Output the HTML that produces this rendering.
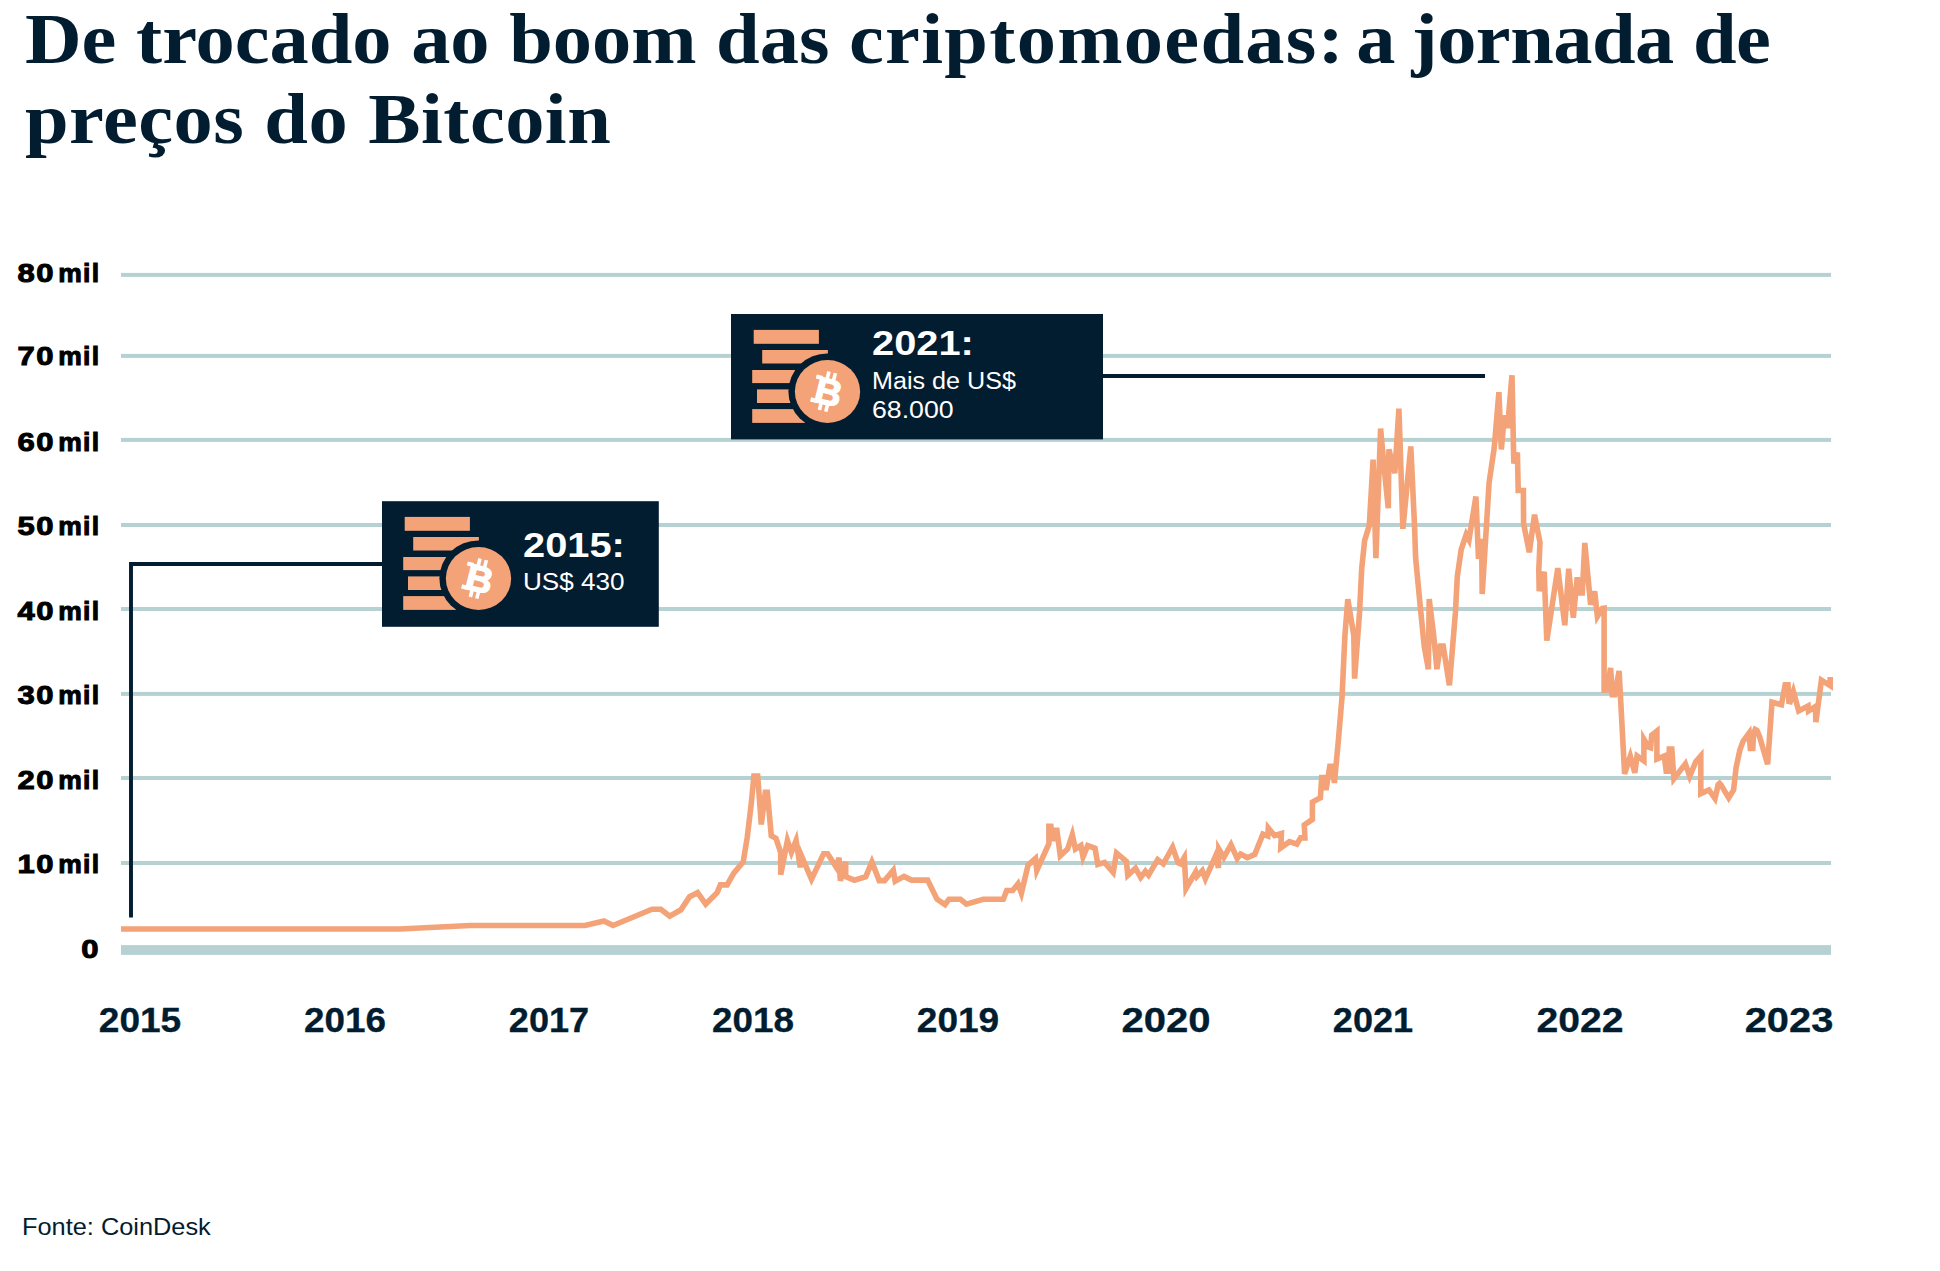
<!DOCTYPE html>
<html lang="pt-BR"><head><meta charset="utf-8"><title>De trocado ao boom das criptomoedas</title>
<style>
html,body{margin:0;padding:0;background:#fff;}
body{width:1940px;height:1271px;position:relative;overflow:hidden;font-family:"Liberation Sans",sans-serif;}
.t{position:absolute;white-space:nowrap;line-height:1;margin:0;}
h1.t{font-family:"Liberation Serif",serif;font-weight:bold;font-size:72px;color:#021c30;transform-origin:0 0;transform:scaleX(1.089);}
.yl{font-weight:bold;font-size:26.5px;color:#000;text-align:right;width:120px;left:-19.6px;-webkit-text-stroke:1.0px #000;letter-spacing:1.3px;word-spacing:-5.2px;}
.d{display:inline-block;transform:scaleX(1.17);transform-origin:100% 50%;}
.xl{font-weight:bold;font-size:34.5px;color:#021c30;transform-origin:50% 50%;text-align:center;width:120px;-webkit-text-stroke:0.3px #021c30;}
.bt{font-weight:bold;font-size:35px;color:#fff;transform-origin:0 0;transform:scaleX(1.137);}
.bs{font-size:23.5px;color:#fff;transform-origin:0 0;}
.src{font-size:24px;color:#021c30;transform-origin:0 0;transform:scaleX(1.056);}
</style></head><body>
<svg width="1940" height="1271" viewBox="0 0 1940 1271" style="position:absolute;left:0;top:0">
<rect x="121" y="272.9" width="1710" height="4" fill="#b6d1d1"/>
<rect x="121" y="353.9" width="1710" height="4" fill="#b6d1d1"/>
<rect x="121" y="437.9" width="1710" height="4" fill="#b6d1d1"/>
<rect x="121" y="523.0" width="1710" height="4" fill="#b6d1d1"/>
<rect x="121" y="607.0" width="1710" height="4" fill="#b6d1d1"/>
<rect x="121" y="691.9" width="1710" height="4" fill="#b6d1d1"/>
<rect x="121" y="776.0" width="1710" height="4" fill="#b6d1d1"/>
<rect x="121" y="861.0" width="1710" height="4" fill="#b6d1d1"/>
<rect x="121" y="945.1" width="1710" height="9.8" fill="#b6d1d1"/>
<path d="M131 917.6 V564.05 H384" fill="none" stroke="#021c30" stroke-width="3.9"/>
<path d="M1100 376 H1485" fill="none" stroke="#021c30" stroke-width="4"/>
<path d="M121.0 929.0 L400.0 929.0 L470.0 925.5 L585.0 925.5 L604.0 921.0 L613.0 925.5 L652.0 909.2 L660.8 909.2 L669.8 916.1 L680.9 909.8 L689.6 896.7 L697.6 892.7 L705.7 904.1 L717.1 892.7 L720.4 884.9 L727.1 884.9 L733.8 873.2 L743.2 861.9 L747.2 837.7 L751.2 804.2 L753.9 776.1 L757.7 776.1 L761.3 824.5 L765.3 792.2 L767.3 792.2 L771.3 835.7 L776.0 838.4 L780.7 852.5 L780.7 874.7 L787.4 840.4 L791.4 852.3 L796.1 840.4 L800.2 867.4 L801.5 855.8 L811.5 879.3 L823.6 853.8 L827.6 853.8 L836.3 867.2 L839.0 857.7 L840.4 880.8 L845.7 861.7 L845.7 876.6 L854.4 880.2 L865.8 876.6 L871.9 861.9 L879.2 880.6 L884.6 880.6 L893.3 870.2 L895.2 881.2 L904.1 876.4 L911.5 880.1 L927.6 880.1 L937.0 899.2 L945.0 904.6 L949.0 899.2 L960.4 899.2 L966.4 904.2 L983.2 899.2 L1003.3 899.2 L1006.7 890.5 L1012.7 890.5 L1018.0 883.8 L1021.4 893.2 L1028.1 865.1 L1035.5 858.4 L1036.8 870.4 L1048.9 843.6 L1048.9 826.2 L1050.9 826.2 L1052.9 841.1 L1054.2 830.2 L1056.9 830.2 L1060.3 855.7 L1067.6 849.0 L1072.3 834.7 L1075.4 849.0 L1080.9 845.6 L1083.0 857.0 L1087.7 845.6 L1095.1 848.3 L1097.8 864.4 L1104.5 862.4 L1113.2 872.4 L1116.5 853.0 L1126.4 861.5 L1127.8 875.3 L1135.5 868.2 L1140.7 877.5 L1145.4 871.3 L1148.5 875.1 L1157.7 859.6 L1163.3 863.9 L1172.6 847.2 L1178.1 862.7 L1180.6 863.9 L1184.3 857.5 L1186.0 888.5 L1195.7 872.0 L1197.0 876.3 L1202.3 870.7 L1205.4 878.8 L1215.9 855.3 L1218.4 867.9 L1218.8 849.0 L1223.8 857.5 L1231.0 844.7 L1237.2 858.4 L1240.6 854.0 L1247.4 857.7 L1254.8 854.3 L1262.9 834.2 L1267.8 836.1 L1268.3 828.0 L1274.6 835.5 L1281.4 833.6 L1280.8 847.8 L1289.5 841.6 L1296.9 844.1 L1300.6 837.9 L1304.9 837.9 L1304.3 824.9 L1312.4 819.4 L1312.4 802.1 L1320.4 797.7 L1321.7 777.5 L1324.1 777.5 L1326.0 790.0 L1329.8 766.3 L1332.7 766.3 L1334.4 783.0 L1338.3 741.3 L1342.1 696.0 L1344.9 635.6 L1347.8 599.1 L1353.8 635.6 L1354.6 678.6 L1359.5 612.9 L1361.7 568.9 L1364.6 540.6 L1369.3 525.4 L1373.1 459.7 L1375.9 558.1 L1380.6 428.5 L1384.4 470.7 L1388.3 508.1 L1388.9 449.3 L1394.8 473.2 L1398.9 408.7 L1402.9 528.8 L1410.8 446.5 L1414.6 527.3 L1415.6 557.6 L1420.4 608.0 L1424.3 646.9 L1428.4 669.2 L1429.2 599.1 L1433.7 635.6 L1436.9 669.2 L1440.3 646.0 L1443.2 646.0 L1449.4 685.2 L1455.4 612.9 L1457.3 576.5 L1461.2 549.5 L1466.2 534.5 L1469.0 539.8 L1475.9 496.5 L1478.5 558.8 L1481.6 539.0 L1482.2 594.0 L1489.1 482.7 L1494.2 447.9 L1498.9 392.2 L1501.3 449.4 L1504.4 415.5 L1507.5 428.0 L1512.0 375.3 L1513.8 463.5 L1517.4 452.5 L1518.2 490.5 L1523.4 490.5 L1523.6 523.8 L1529.3 552.3 L1534.5 514.7 L1540.0 542.5 L1538.8 570.0 L1539.2 591.1 L1544.2 571.8 L1546.8 640.7 L1557.8 568.2 L1564.8 625.2 L1568.7 568.8 L1573.3 617.7 L1577.2 577.3 L1579.5 592.9 L1582.3 592.9 L1584.8 542.9 L1590.6 604.8 L1594.7 591.4 L1597.4 616.5 L1602.4 608.3 L1604.1 608.1 L1604.1 690.0 L1607.4 689.8 L1610.6 668.0 L1612.3 694.8 L1614.8 694.8 L1619.1 670.9 L1624.6 773.8 L1630.3 756.2 L1634.8 772.8 L1637.1 755.9 L1643.9 760.8 L1643.9 739.2 L1648.6 747.2 L1650.6 747.8 L1651.7 735.2 L1656.9 731.1 L1656.9 759.0 L1664.3 755.9 L1666.2 771.3 L1668.7 771.3 L1669.3 749.1 L1671.8 749.1 L1673.9 778.8 L1685.4 763.9 L1689.7 776.3 L1695.9 761.4 L1700.8 755.9 L1700.8 793.6 L1708.9 789.9 L1715.0 798.6 L1718.2 784.6 L1719.6 783.4 L1721.0 784.9 L1728.7 797.9 L1733.6 789.9 L1736.1 767.6 L1739.8 750.3 L1742.9 741.6 L1749.1 733.0 L1750.3 748.5 L1752.8 748.5 L1753.6 733.5 L1755.2 729.6 L1757.0 730.6 L1759.6 736.7 L1767.6 764.2 L1772.0 702.2 L1781.4 704.7 L1785.2 684.9 L1788.0 684.9 L1788.9 701.5 L1790.2 701.8 L1793.4 691.5 L1798.7 711.0 L1808.1 706.0 L1808.5 711.0 L1815.4 706.6 L1815.9 722.2 L1821.4 680.2 L1830.2 685.7 L1830.2 676.9" fill="none" stroke="#f3a377" stroke-width="5.6" stroke-linejoin="miter" stroke-miterlimit="4" stroke-linecap="butt"/>
<rect x="382" y="501.2" width="276.8" height="125.6" fill="#021c30"/>
<g transform="translate(382,501.2)">
<rect x="22.7" y="15.7" width="65.2" height="13.9" fill="#f3a377"/>
<rect x="31.2" y="35.8" width="65.7" height="13.5" fill="#f3a377"/>
<rect x="21.2" y="55.8" width="60" height="13.1" fill="#f3a377"/>
<rect x="26" y="75.2" width="55" height="13.6" fill="#f3a377"/>
<rect x="21.2" y="94.9" width="60" height="13.8" fill="#f3a377"/>
<ellipse cx="96.5" cy="77.3" rx="39.1" ry="38.1" fill="#021c30"/>
<ellipse cx="96.5" cy="77.3" rx="32.65" ry="31.45" fill="#f3a377"/>
<g transform="translate(96.5,77.3) rotate(14)">
<text x="1.2" y="13" text-anchor="middle" font-family="'Liberation Sans',sans-serif" font-weight="bold" font-size="37" fill="#fff" stroke="#fff" stroke-width="1.3">B</text>
<rect x="-5.2" y="-19.8" width="3.6" height="7.5" fill="#fff"/>
<rect x="-5.2" y="12.4" width="3.6" height="7.5" fill="#fff"/>
<rect x="1.4" y="-19.8" width="3.6" height="7.5" fill="#fff"/>
<rect x="1.4" y="12.4" width="3.6" height="7.5" fill="#fff"/>
<rect x="-14.5" y="-14" width="6.5" height="4.2" fill="#fff"/>
<rect x="-14.5" y="9.6" width="6.5" height="4.2" fill="#fff"/>
</g></g>
<rect x="731" y="314" width="372" height="125.4" fill="#021c30"/>
<g transform="translate(731,314.2)">
<rect x="22.7" y="15.7" width="65.2" height="13.9" fill="#f3a377"/>
<rect x="31.2" y="35.8" width="65.7" height="13.5" fill="#f3a377"/>
<rect x="21.2" y="55.8" width="60" height="13.1" fill="#f3a377"/>
<rect x="26" y="75.2" width="55" height="13.6" fill="#f3a377"/>
<rect x="21.2" y="94.9" width="60" height="13.8" fill="#f3a377"/>
<ellipse cx="96.5" cy="77.3" rx="39.1" ry="38.1" fill="#021c30"/>
<ellipse cx="96.5" cy="77.3" rx="32.65" ry="31.45" fill="#f3a377"/>
<g transform="translate(96.5,77.3) rotate(14)">
<text x="1.2" y="13" text-anchor="middle" font-family="'Liberation Sans',sans-serif" font-weight="bold" font-size="37" fill="#fff" stroke="#fff" stroke-width="1.3">B</text>
<rect x="-5.2" y="-19.8" width="3.6" height="7.5" fill="#fff"/>
<rect x="-5.2" y="12.4" width="3.6" height="7.5" fill="#fff"/>
<rect x="1.4" y="-19.8" width="3.6" height="7.5" fill="#fff"/>
<rect x="1.4" y="12.4" width="3.6" height="7.5" fill="#fff"/>
<rect x="-14.5" y="-14" width="6.5" height="4.2" fill="#fff"/>
<rect x="-14.5" y="9.6" width="6.5" height="4.2" fill="#fff"/>
</g></g>
</svg>
<h1 class="t" id="t1" style="left:24.8px;top:2.5px;">De trocado ao boom das <span style="letter-spacing:1.2px">criptomoedas:</span><span style="word-spacing:-7.8px"> a</span><span style="word-spacing:-3.2px"> </span><span style="letter-spacing:-0.45px">jornada de</span></h1>
<h1 class="t" id="t2" style="left:25px;top:82.5px;letter-spacing:0.45px">preços do Bitcoin</h1>
<div class="t yl" style="top:259.8px"><span class="d">80</span> mil</div>
<div class="t yl" style="top:343.4px"><span class="d">70</span> mil</div>
<div class="t yl" style="top:428.8px"><span class="d">60</span> mil</div>
<div class="t yl" style="top:512.6px"><span class="d">50</span> mil</div>
<div class="t yl" style="top:597.8px"><span class="d">40</span> mil</div>
<div class="t yl" style="top:681.5px"><span class="d">30</span> mil</div>
<div class="t yl" style="top:766.5px"><span class="d">20</span> mil</div>
<div class="t yl" style="top:850.5px"><span class="d">10</span> mil</div>
<div class="t yl" style="top:935.5px"><span class="d">0</span></div>
<div class="t xl" style="left:79.8px;top:1002.8px;transform:scaleX(1.074)">2015</div>
<div class="t xl" style="left:284.5px;top:1002.8px;transform:scaleX(1.068)">2016</div>
<div class="t xl" style="left:488.8px;top:1002.8px;transform:scaleX(1.047)">2017</div>
<div class="t xl" style="left:692.5px;top:1002.8px;transform:scaleX(1.068)">2018</div>
<div class="t xl" style="left:898.3px;top:1002.8px;transform:scaleX(1.074)">2019</div>
<div class="t xl" style="left:1106.0px;top:1002.8px;transform:scaleX(1.162)">2020</div>
<div class="t xl" style="left:1313.0px;top:1002.8px;transform:scaleX(1.047)">2021</div>
<div class="t xl" style="left:1520.0px;top:1002.8px;transform:scaleX(1.135)">2022</div>
<div class="t xl" style="left:1729.0px;top:1002.8px;transform:scaleX(1.155)">2023</div>
<div class="t bt" id="b1t" style="left:523.2px;top:527px">2015:</div>
<div class="t bs" id="b1s" style="left:523px;top:571px;transform:scaleX(1.11)">US$ 430</div>
<div class="t bt" id="b2t" style="left:872px;top:325px">2021:</div>
<div class="t bs" id="b2s" style="left:872px;top:369.8px;transform:scaleX(1.07)">Mais de US$</div>
<div class="t bs" id="b2u" style="left:872px;top:399.1px;transform:scaleX(1.136)">68.000</div>
<div class="t src" id="src" style="left:21.6px;top:1214.9px">Fonte: CoinDesk</div>
</body></html>
